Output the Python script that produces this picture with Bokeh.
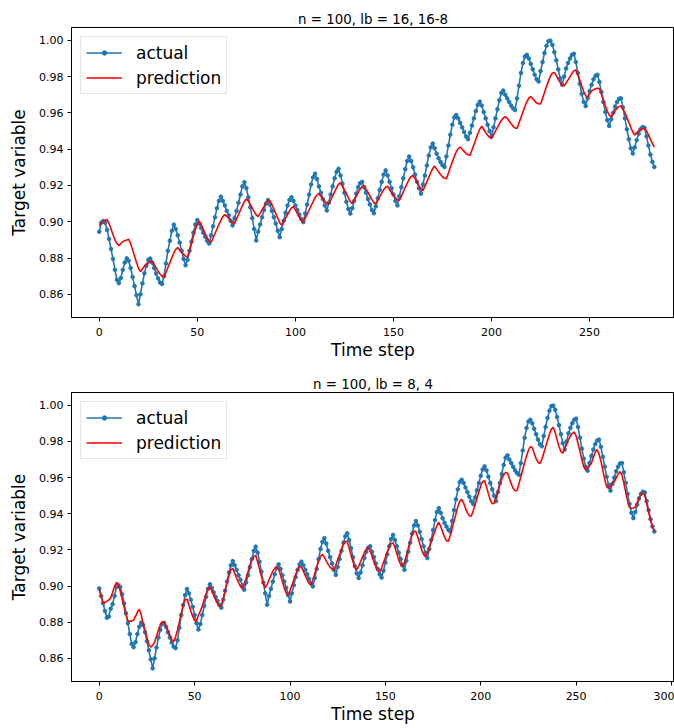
from bokeh.plotting import figure
from bokeh.models import Range1d, FixedTicker, NumeralTickFormatter, Legend, LegendItem
from bokeh.embed import file_html
from bokeh.resources import INLINE

# Target variable, full series (bottom panel); the top panel starts 8 steps later
actual = [
    0.8987, 0.8945, 0.8905, 0.8862, 0.8825, 0.8832, 0.8875, 0.8900,
    0.8945, 0.8995, 0.9004, 0.8995, 0.8955, 0.8905, 0.8850, 0.8795, 0.8735, 0.8680,
    0.8662, 0.8690, 0.8735, 0.8775, 0.8798, 0.8785, 0.8745, 0.8695, 0.8645, 0.8595,
    0.8545, 0.8600, 0.8660, 0.8715, 0.8758, 0.8790, 0.8797, 0.8775, 0.8745, 0.8715,
    0.8688, 0.8665, 0.8657, 0.8700, 0.8770, 0.8840, 0.8895, 0.8950, 0.8984, 0.8960,
    0.8925, 0.8885, 0.8840, 0.8795, 0.8760, 0.8790, 0.8840, 0.8890, 0.8940, 0.8985,
    0.9010, 0.8990, 0.8965, 0.8940, 0.8918, 0.8895, 0.8880, 0.8925, 0.8975, 0.9025,
    0.9075, 0.9115, 0.9138, 0.9115, 0.9090, 0.9060, 0.9035, 0.9005, 0.8980, 0.9020,
    0.9060, 0.9105, 0.9150, 0.9195, 0.9218, 0.9185, 0.9135, 0.9080, 0.9020, 0.8960,
    0.8897, 0.8945, 0.8985, 0.9025, 0.9065, 0.9100, 0.9120, 0.9095, 0.9060, 0.9025,
    0.8990, 0.8950, 0.8915, 0.8960, 0.9005, 0.9050, 0.9090, 0.9120, 0.9135, 0.9115,
    0.9090, 0.9065, 0.9040, 0.9015, 0.8998, 0.9045, 0.9095, 0.9150, 0.9205, 0.9245,
    0.9265, 0.9235, 0.9195, 0.9160, 0.9125, 0.9090, 0.9062, 0.9105, 0.9150, 0.9195,
    0.9240, 0.9275, 0.9292, 0.9255, 0.9210, 0.9160, 0.9110, 0.9070, 0.9045, 0.9075,
    0.9115, 0.9155, 0.9190, 0.9212, 0.9220, 0.9190, 0.9160, 0.9125, 0.9095, 0.9065,
    0.9047, 0.9085, 0.9130, 0.9175, 0.9220, 0.9260, 0.9283, 0.9255, 0.9220, 0.9185,
    0.9150, 0.9115, 0.9090, 0.9140, 0.9190, 0.9240, 0.9290, 0.9335, 0.9360, 0.9335,
    0.9300, 0.9260, 0.9220, 0.9185, 0.9155, 0.9205, 0.9255, 0.9310, 0.9365, 0.9410,
    0.9431, 0.9405, 0.9375, 0.9350, 0.9330, 0.9312, 0.9302, 0.9360, 0.9420, 0.9480,
    0.9535, 0.9575, 0.9588, 0.9570, 0.9545, 0.9520, 0.9495, 0.9470, 0.9455, 0.9490,
    0.9530, 0.9570, 0.9610, 0.9645, 0.9662, 0.9640, 0.9605, 0.9570, 0.9535, 0.9500,
    0.9470, 0.9520, 0.9570, 0.9620, 0.9670, 0.9710, 0.9723, 0.9700, 0.9680, 0.9660,
    0.9640, 0.9625, 0.9616, 0.9680, 0.9750, 0.9820, 0.9875, 0.9910, 0.9920, 0.9900,
    0.9870, 0.9840, 0.9810, 0.9785, 0.9773, 0.9830, 0.9880, 0.9930, 0.9970, 0.9995,
    0.9998, 0.9975, 0.9935, 0.9890, 0.9840, 0.9790, 0.9755, 0.9800, 0.9845, 0.9875,
    0.9900, 0.9920, 0.9926, 0.9880, 0.9820, 0.9760, 0.9705, 0.9660, 0.9638, 0.9680,
    0.9720, 0.9755, 0.9785, 0.9805, 0.9810, 0.9770, 0.9715, 0.9660, 0.9605, 0.9560,
    0.9528, 0.9565, 0.9600, 0.9635, 0.9660, 0.9678, 0.9680, 0.9630, 0.9570, 0.9510,
    0.9455, 0.9405, 0.9376, 0.9410, 0.9450, 0.9485, 0.9510, 0.9522, 0.9518, 0.9470,
    0.9420, 0.9370, 0.9330, 0.9302,
]

# Prediction, lb = 16, 16-8 (top panel)
pred_lb16 = [
    0.8978, 0.8990, 0.9000, 0.9008, 0.9012, 0.8990, 0.8960, 0.8930, 0.8900, 0.8880,
    0.8868, 0.8880, 0.8890, 0.8896, 0.8900, 0.8904, 0.8880, 0.8845, 0.8810, 0.8775,
    0.8745, 0.8725, 0.8740, 0.8755, 0.8765, 0.8772, 0.8780, 0.8784, 0.8765, 0.8745,
    0.8728, 0.8712, 0.8700, 0.8695, 0.8720, 0.8748, 0.8775, 0.8802, 0.8828, 0.8848,
    0.8858, 0.8845, 0.8832, 0.8820, 0.8810, 0.8806, 0.8840, 0.8880, 0.8920, 0.8958,
    0.8988, 0.9002, 0.8985, 0.8960, 0.8935, 0.8912, 0.8895, 0.8886, 0.8910, 0.8935,
    0.8960, 0.8985, 0.9008, 0.9028, 0.9039, 0.9030, 0.9018, 0.9005, 0.8995, 0.8991,
    0.9015, 0.9040, 0.9065, 0.9090, 0.9112, 0.9126, 0.9115, 0.9095, 0.9075, 0.9055,
    0.9038, 0.9028, 0.9045, 0.9065, 0.9085, 0.9102, 0.9114, 0.9117, 0.9095, 0.9070,
    0.9045, 0.9020, 0.8995, 0.8980, 0.9000, 0.9020, 0.9040, 0.9060, 0.9076, 0.9083,
    0.9065, 0.9045, 0.9025, 0.9008, 0.8998, 0.9020, 0.9042, 0.9065, 0.9088, 0.9110,
    0.9132, 0.9148, 0.9154, 0.9140, 0.9125, 0.9112, 0.9102, 0.9098, 0.9120, 0.9142,
    0.9165, 0.9188, 0.9207, 0.9215, 0.9195, 0.9175, 0.9155, 0.9132, 0.9112, 0.9100,
    0.9120, 0.9140, 0.9160, 0.9180, 0.9195, 0.9200, 0.9180, 0.9162, 0.9142, 0.9122,
    0.9105, 0.9098, 0.9118, 0.9138, 0.9158, 0.9176, 0.9190, 0.9196, 0.9178, 0.9160,
    0.9145, 0.9132, 0.9122, 0.9117, 0.9140, 0.9165, 0.9190, 0.9212, 0.9234, 0.9250,
    0.9255, 0.9238, 0.9218, 0.9198, 0.9180, 0.9172, 0.9195, 0.9220, 0.9245, 0.9270,
    0.9293, 0.9307, 0.9290, 0.9275, 0.9260, 0.9248, 0.9240, 0.9237, 0.9268, 0.9300,
    0.9330, 0.9360, 0.9385, 0.9403, 0.9412, 0.9400, 0.9388, 0.9377, 0.9369, 0.9366,
    0.9395, 0.9425, 0.9455, 0.9485, 0.9510, 0.9527, 0.9510, 0.9492, 0.9477, 0.9465,
    0.9459, 0.9480, 0.9500, 0.9520, 0.9540, 0.9558, 0.9572, 0.9579, 0.9570, 0.9555,
    0.9540, 0.9526, 0.9517, 0.9514, 0.9545, 0.9575, 0.9605, 0.9635, 0.9662, 0.9682,
    0.9690, 0.9678, 0.9665, 0.9655, 0.9650, 0.9649, 0.9680, 0.9712, 0.9745, 0.9775,
    0.9802, 0.9820, 0.9823, 0.9805, 0.9785, 0.9767, 0.9754, 0.9749, 0.9765, 0.9782,
    0.9800, 0.9818, 0.9832, 0.9837, 0.9810, 0.9780, 0.9748, 0.9718, 0.9695, 0.9686,
    0.9705, 0.9720, 0.9728, 0.9733, 0.9736, 0.9734, 0.9705, 0.9672, 0.9640, 0.9610,
    0.9588, 0.9579, 0.9595, 0.9612, 0.9626, 0.9635, 0.9638, 0.9622, 0.9600, 0.9575,
    0.9548, 0.9520, 0.9495, 0.9478, 0.9490, 0.9502, 0.9510, 0.9514, 0.9514, 0.9500,
    0.9480, 0.9455, 0.9432, 0.9412,
]

# Prediction, lb = 8, 4 (bottom panel)
pred_lb8 = [
    0.8983, 0.8945, 0.8906, 0.8910, 0.8916, 0.8924, 0.8935, 0.8965, 0.8998, 0.9020,
    0.9012, 0.8972, 0.8930, 0.8885, 0.8842, 0.8808, 0.8805, 0.8806, 0.8812, 0.8832,
    0.8856, 0.8872, 0.8840, 0.8792, 0.8755, 0.8715, 0.8676, 0.8663, 0.8672, 0.8690,
    0.8722, 0.8757, 0.8786, 0.8803, 0.8800, 0.8780, 0.8755, 0.8728, 0.8705, 0.8692,
    0.8718, 0.8757, 0.8802, 0.8850, 0.8895, 0.8925, 0.8928, 0.8895, 0.8862, 0.8832,
    0.8810, 0.8806, 0.8840, 0.8862, 0.8890, 0.8925, 0.8958, 0.8985, 0.8995, 0.8975,
    0.8950, 0.8925, 0.8903, 0.8888, 0.8893, 0.8930, 0.8975, 0.9020, 0.9060, 0.9090,
    0.9098, 0.9070, 0.9045, 0.9020, 0.8998, 0.8985, 0.9010, 0.9045, 0.9080, 0.9115,
    0.9145, 0.9165, 0.9170, 0.9135, 0.9095, 0.9055, 0.9015, 0.8990, 0.9010, 0.9035,
    0.9060, 0.9082, 0.9098, 0.9106, 0.9095, 0.9062, 0.9025, 0.8990, 0.8962, 0.8952,
    0.8975, 0.9005, 0.9035, 0.9065, 0.9092, 0.9108, 0.9105, 0.9082, 0.9058, 0.9035,
    0.9015, 0.9005, 0.9035, 0.9070, 0.9105, 0.9140, 0.9165, 0.9175, 0.9160, 0.9140,
    0.9120, 0.9105, 0.9095, 0.9090, 0.9115, 0.9145, 0.9175, 0.9205, 0.9232, 0.9248,
    0.9245, 0.9210, 0.9170, 0.9135, 0.9105, 0.9090, 0.9110, 0.9135, 0.9160, 0.9185,
    0.9205, 0.9213, 0.9195, 0.9165, 0.9135, 0.9105, 0.9085, 0.9077, 0.9100, 0.9130,
    0.9160, 0.9190, 0.9215, 0.9235, 0.9240, 0.9215, 0.9180, 0.9145, 0.9120, 0.9108,
    0.9130, 0.9170, 0.9210, 0.9250, 0.9285, 0.9305, 0.9300, 0.9270, 0.9235, 0.9200,
    0.9175, 0.9163, 0.9185, 0.9215, 0.9245, 0.9275, 0.9305, 0.9335, 0.9353, 0.9330,
    0.9300, 0.9272, 0.9252, 0.9246, 0.9280, 0.9320, 0.9360, 0.9400, 0.9440, 0.9470,
    0.9480, 0.9460, 0.9430, 0.9405, 0.9390, 0.9386, 0.9415, 0.9450, 0.9485, 0.9520,
    0.9555, 0.9578, 0.9582, 0.9550, 0.9510, 0.9475, 0.9455, 0.9458, 0.9490, 0.9525,
    0.9560, 0.9592, 0.9615, 0.9628, 0.9625, 0.9595, 0.9565, 0.9540, 0.9527, 0.9528,
    0.9565, 0.9605, 0.9645, 0.9685, 0.9720, 0.9752, 0.9772, 0.9765, 0.9735, 0.9705,
    0.9685, 0.9678, 0.9700, 0.9735, 0.9770, 0.9805, 0.9840, 0.9868, 0.9878, 0.9850,
    0.9810, 0.9772, 0.9745, 0.9735, 0.9760, 0.9785, 0.9810, 0.9830, 0.9845, 0.9852,
    0.9830, 0.9790, 0.9745, 0.9700, 0.9660, 0.9642, 0.9655, 0.9665, 0.9680, 0.9710,
    0.9740, 0.9755, 0.9730, 0.9690, 0.9640, 0.9590, 0.9550, 0.9540, 0.9555, 0.9568,
    0.9578, 0.9598, 0.9620, 0.9633, 0.9615, 0.9570, 0.9520, 0.9470, 0.9435, 0.9430,
    0.9432, 0.9438, 0.9460, 0.9485, 0.9508, 0.9517, 0.9500, 0.9455, 0.9410, 0.9365,
    0.9330, 0.9303,
]

top_offset = 8
titles = ["n = 100, lb = 16, 16-8", "n = 100, lb = 8, 4"]
x_ticks_top = [0, 50, 100, 150, 200, 250]
x_ticks_bottom = [0, 50, 100, 150, 200, 250, 300]
y_ticks = [0.86, 0.88, 0.90, 0.92, 0.94, 0.96, 0.98, 1.00]
x_label = "Time step"
y_label = "Target variable"

FONT = "DejaVu Sans"
W, H = 674, 364
FRAME_LEFT = 71
FULL_FRAME_W = 610.6   # axes width of the original (uncropped) figure, in px


def make_panel(title, y_act, y_pred, xticks, top_border):
    n = len(y_act)
    xs = list(range(n))
    x0 = -0.05 * (n - 1)
    x1_full = 1.05 * (n - 1)
    frame_w = W - FRAME_LEFT
    x1 = x0 + (x1_full - x0) * frame_w / FULL_FRAME_W
    allv = list(y_act) + list(y_pred)
    lo, hi = min(allv), max(allv)
    pad = 0.05 * (hi - lo)

    p = figure(width=W, height=H, output_backend="svg", toolbar_location=None,
               title=title, min_border=0, min_border_left=FRAME_LEFT,
               min_border_right=0, min_border_top=top_border,
               min_border_bottom=47,
               x_range=Range1d(x0, x1), y_range=Range1d(lo - pad, hi + pad))
    p.title.text_font = FONT
    p.title.text_font_size = "13.4px"
    p.title.text_font_style = "normal"
    p.title.text_color = "black"
    p.title.align = "center"
    p.title.offset = 3
    p.title.standoff = 1

    p.xgrid.visible = False
    p.ygrid.visible = False
    p.outline_line_color = "black"
    p.outline_line_width = 1
    p.background_fill_color = "white"
    p.border_fill_color = "white"

    for ax in (p.xaxis[0], p.yaxis[0]):
        ax.axis_line_color = "black"
        ax.major_tick_line_color = "black"
        ax.major_tick_out = 4
        ax.major_tick_in = 0
        ax.minor_tick_line_color = None
        ax.major_label_text_font = FONT
        ax.major_label_text_font_size = "11px"
        ax.major_label_text_color = "black"
        ax.axis_label_text_font = FONT
        ax.axis_label_text_font_size = "17px"
        ax.axis_label_text_font_style = "normal"
        ax.axis_label_text_color = "black"

    p.xaxis.ticker = FixedTicker(ticks=xticks)
    p.yaxis.ticker = FixedTicker(ticks=y_ticks)
    p.yaxis.formatter = NumeralTickFormatter(format="0.00")
    p.xaxis.axis_label = x_label
    p.yaxis.axis_label = y_label
    p.xaxis.major_label_standoff = 6
    p.xaxis.axis_label_standoff = 1
    p.yaxis.major_label_standoff = 4
    p.yaxis.axis_label_standoff = 7

    r_line = p.line(xs, y_act, line_color="#1f77b4", line_width=1.6)
    r_dot = p.scatter(xs, y_act, size=3.6, fill_color="#1f77b4", line_color="#1f77b4",
                      line_width=1)
    r_pred = p.line(xs, y_pred, line_color="red", line_width=1.6)

    legend = Legend(items=[LegendItem(label="actual", renderers=[r_line, r_dot]),
                           LegendItem(label="prediction", renderers=[r_pred])],
                    location="top_left")
    legend.margin = 9
    legend.padding = 5
    legend.spacing = 4
    legend.glyph_width = 36
    legend.glyph_height = 11
    legend.label_height = 21
    legend.label_standoff = 14
    legend.label_text_font = FONT
    legend.label_text_font_size = "17px"
    legend.label_text_color = "black"
    legend.border_line_color = "#cccccc"
    legend.border_line_width = 1
    legend.background_fill_color = "white"
    legend.background_fill_alpha = 0.8
    p.add_layout(legend)
    return p


p1 = make_panel(titles[0], actual[top_offset:], pred_lb16, x_ticks_top, 27)
p2 = make_panel(titles[1], actual, pred_lb8, x_ticks_bottom, 28)

# two independent roots, stacked, so that each frame is laid out on its own
open("out.html", "w").write(file_html([p1, p2], INLINE))
